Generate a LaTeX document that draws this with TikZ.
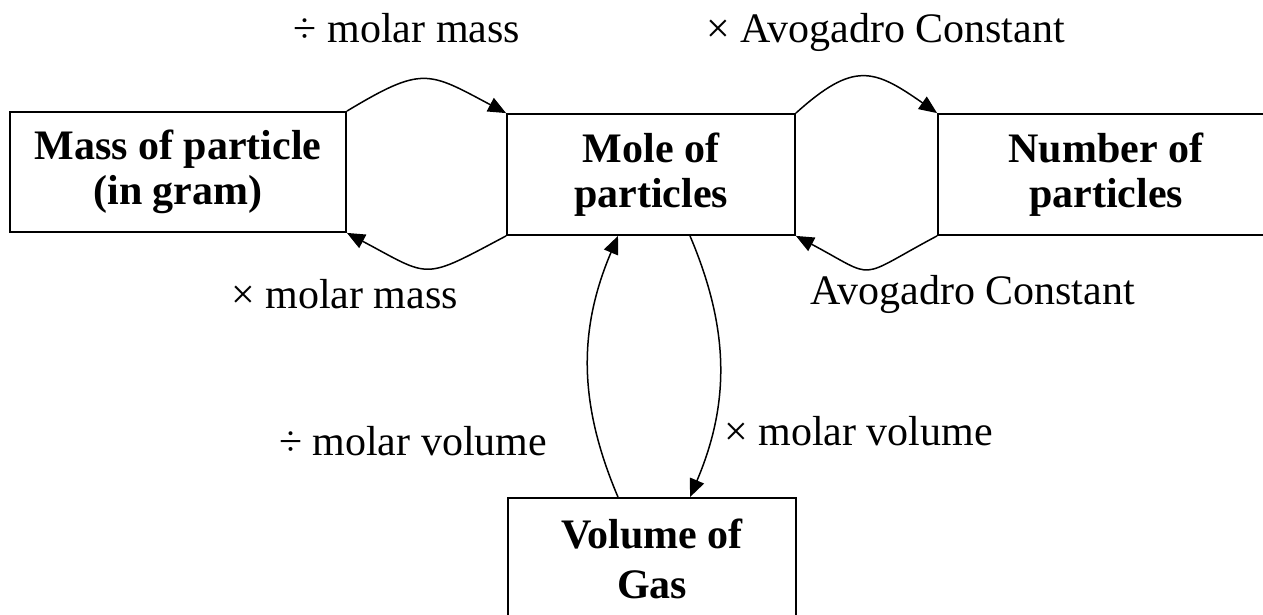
\documentclass[tikz,border=0pt]{standalone}
\usepackage{fontspec}
\setmainfont{Liberation Serif}
\usetikzlibrary{arrows.meta}
\begin{document}
\begin{tikzpicture}[x=1pt,y=1pt,
  box/.style={draw,line width=1.8pt,inner sep=0pt,align=center,
    font=\fontsize{42}{45}\selectfont\bfseries},
  conv/.style={line width=1.5pt,-{Triangle[length=18pt,width=15pt]}},
  lbl/.style={anchor=base,inner sep=0pt,font=\fontsize{42}{45}\selectfont}]
\useasboundingbox (0,0) rectangle (1263,614);
\clip (0,0) rectangle (1263,614);
\node[box,minimum width=336pt,minimum height=120pt] (mass) at (178,442) {Mass of particle\\(in gram)};
\node[box,minimum width=288pt,minimum height=121pt] (mole) at (651,439.5) {Mole of\\particles};
\node[box,minimum width=336pt,minimum height=121pt] (number) at (1106,439.5) {Number of\\particles};
\node[box,minimum width=288pt,minimum height=121pt,font=\fontsize{42}{50}\selectfont\bfseries] (volume) at (652,55.5) {Volume of\\Gas};
% connectors
\draw[conv] (mass.north east) to[out=31,in=152,looseness=1.42] (mole.north west);
\draw[conv] (mole.south west) to[out=208,in=-28,looseness=1.54] (mass.south east);
\draw[conv] (mole.north east) to[out=42,in=145,looseness=1.41] (number.north west);
\draw[conv] (number.south west) to[out=208,in=-28,looseness=1.7] (mole.south east);
\draw[conv] ([xshift=-34pt]volume.north) to[out=113,in=-113] ([xshift=-33pt]mole.south);
\draw[conv] ([xshift=39pt]mole.south) to[out=-67,in=67] ([xshift=38pt]volume.north);
% labels
\node[lbl] (l1) at (407,571) {÷ molar mass};
\node[lbl] (l2) at (885.5,571) {× Avogadro Constant};
\node[lbl] (l3) at (344.5,306) {× molar mass};
\node[lbl] (l4) at (972.5,309) {Avogadro Constant};
\node[lbl] (l5) at (413,159) {÷ molar volume};
\node[lbl] (l6) at (858.5,169) {× molar volume};
\end{tikzpicture}
\end{document}
